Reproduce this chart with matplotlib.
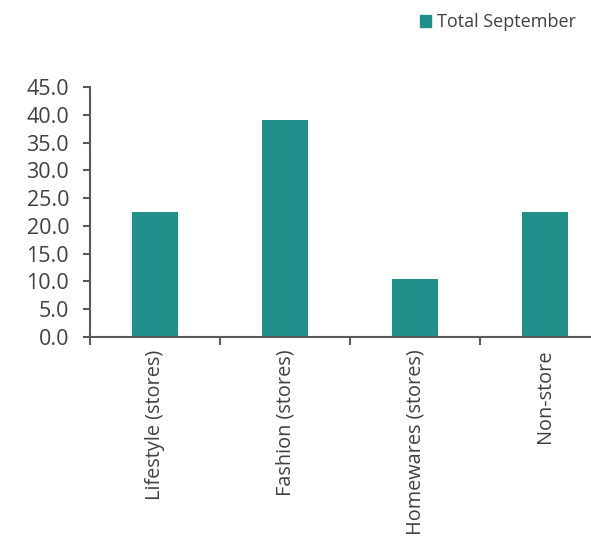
import matplotlib

matplotlib.use("Agg")
import matplotlib.pyplot as plt
from matplotlib.patches import Patch

categories = ["Lifestyle (stores)", "Fashion (stores)", "Homewares (stores)", "Non-store"]
values = [22.5, 39.0, 10.4, 22.5]
series_name = "Total September"
y_ticks = [0, 5, 10, 15, 20, 25, 30, 35, 40, 45]

TEXT = "#404040"
AXIS = "#595959"
BAR = "#21908a"

plt.rcParams["font.family"] = ["Open Sans", "DejaVu Sans"]

fig = plt.figure(figsize=(5.91, 5.39), dpi=100)
# axes runs past the right edge, as in the source chart
ax = fig.add_axes([90 / 591, 1 - 337 / 539, 520 / 591, 250 / 539])

x = list(range(len(categories)))
ax.bar(x, values, width=0.35, color=BAR, zorder=2)

ax.set_xlim(-0.5, len(categories) - 0.5)
ax.set_ylim(0, 45)
ax.set_yticks(y_ticks)
ax.set_yticklabels([f"{v:.1f}" for v in y_ticks], fontsize=15.5, color=TEXT)

# category labels between boundary ticks
ax.set_xticks(x)
ax.set_xticklabels(categories, rotation=90, fontsize=14.3, color=TEXT)
ax.tick_params(axis="x", length=0, pad=9)
ax.set_xticks([i - 0.5 for i in range(len(categories) + 1)], minor=True)
ax.tick_params(axis="x", which="minor", length=6, width=1.5, color=AXIS, direction="out")
ax.tick_params(axis="y", length=5, width=1.5, color=AXIS, direction="out", pad=10)

for side in ("top", "right"):
    ax.spines[side].set_visible(False)
for side in ("left", "bottom"):
    ax.spines[side].set_color(AXIS)
    ax.spines[side].set_linewidth(1.5)

fig.legend(handles=[Patch(color=BAR, label=series_name)], loc="upper right",
           bbox_to_anchor=(592 / 591, 1 + 3 / 539), frameon=False, fontsize=13,
           handlelength=0.6, handleheight=0.6, handletextpad=0.3, labelcolor=TEXT)

fig.savefig("out.png", dpi=100)
